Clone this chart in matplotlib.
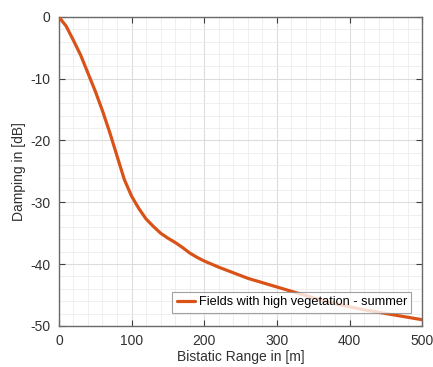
import matplotlib
matplotlib.use("Agg")
import matplotlib.pyplot as plt
from matplotlib.ticker import MultipleLocator

# Measured damping over bistatic range
range_m = [0, 10, 20, 30, 40, 50, 60, 70, 80, 90, 100, 110, 120, 130, 140, 150,
           160, 170, 180, 190, 200, 220, 240, 260, 280, 300, 320, 340, 360, 380,
           400, 420, 440, 460, 480, 500]
damping_db = [0, -1.5, -3.8, -6.2, -9.1, -12.0, -15.2, -18.7, -22.5, -26.3, -29.0,
              -31.0, -32.7, -33.9, -35.0, -35.8, -36.5, -37.3, -38.2, -38.9, -39.5,
              -40.5, -41.4, -42.3, -43.0, -43.7, -44.4, -45.1, -45.8, -46.4, -46.9,
              -47.4, -47.8, -48.2, -48.6, -49.0]
series_label = "Fields with high vegetation - summer"
x_ticks = [0, 100, 200, 300, 400, 500]
y_ticks = [0, -10, -20, -30, -40, -50]

plt.rcParams["font.family"] = ["Liberation Sans", "DejaVu Sans"]
plt.rcParams["axes.unicode_minus"] = False

fig = plt.figure(figsize=(4.33, 3.67), dpi=100)
ax = fig.add_axes([0.136, 0.112, 0.839, 0.842])

ax.plot(range_m, damping_db, color="#D95319", lw=2.3, label=series_label,
        solid_capstyle="round", zorder=3)

ax.set_xlim(0, 500)
ax.set_ylim(-50, 0)
ax.set_xticks(x_ticks)
ax.set_yticks(y_ticks)
ax.xaxis.set_minor_locator(MultipleLocator(20))
ax.yaxis.set_minor_locator(MultipleLocator(2))

ax.grid(which="major", color="#dcdcdc", lw=0.8)
ax.grid(which="minor", color="#ececec", lw=0.6)
ax.set_axisbelow(True)

ax.tick_params(which="major", direction="in", length=4, width=0.8,
               top=True, right=True, colors="#404040", labelsize=10,
               labelcolor="#303030", pad=6)
ax.tick_params(which="minor", length=0, top=True, right=True)
for s in ax.spines.values():
    s.set_color("#6a6a6a")
    s.set_linewidth(1.0)

ax.set_xlabel("Bistatic Range in [m]", fontsize=10, color="#303030", labelpad=1)
ax.set_ylabel("Damping in [dB]", fontsize=10, color="#303030", labelpad=3)

leg = ax.legend(loc="lower right", bbox_to_anchor=(0.97, 0.042), fontsize=9.2,
                frameon=True, fancybox=False, handlelength=1.4,
                borderpad=0.35, handletextpad=0.3, borderaxespad=0)
leg.get_frame().set_edgecolor("#8a8a8a")
leg.get_frame().set_linewidth(0.8)

fig.savefig("out.png", dpi=100)
